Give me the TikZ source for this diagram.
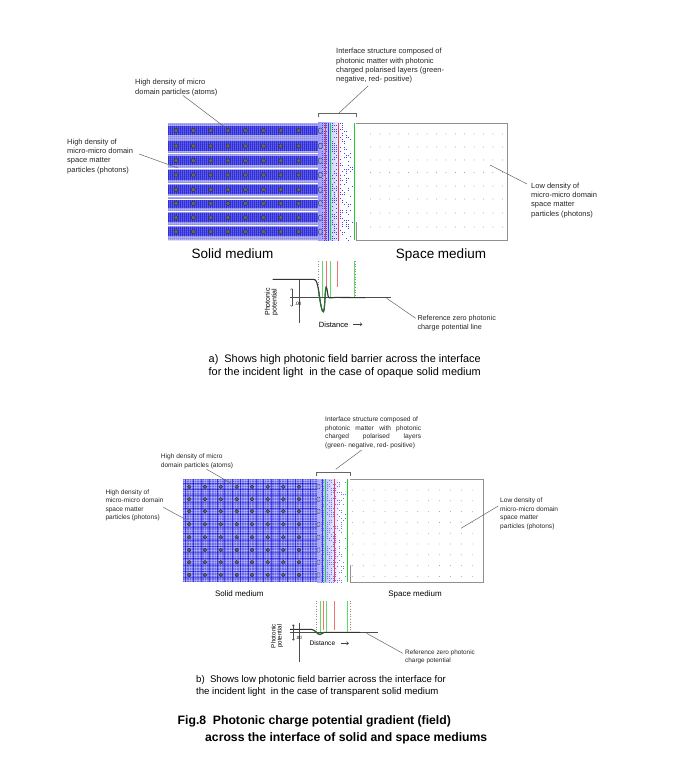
\documentclass[tikz,border=0pt]{standalone}
\usepackage{fontspec}
\setmainfont{Liberation Sans}
\usetikzlibrary{arrows.meta}
\definecolor{solidblue}{RGB}{50,50,225}
\definecolor{solidlight}{RGB}{160,160,240}
\definecolor{solidmid}{RGB}{105,105,232}
\definecolor{ifgreen}{RGB}{30,205,50}
\definecolor{ifred}{RGB}{235,60,85}
\definecolor{lgreen}{RGB}{100,220,100}
\definecolor{lred}{RGB}{240,115,115}
\definecolor{boxgray}{RGB}{145,145,145}
\definecolor{dotgray}{RGB}{150,150,150}
\definecolor{curvecol}{RGB}{45,55,45}
\definecolor{dipgreen}{RGB}{40,110,50}
\tikzset{
  lbl/.style={font=\fontsize{7.5}{9.3}\selectfont, inner sep=0pt, align=left, anchor=north west, text=black!85},
  lblsm/.style={font=\fontsize{6.6}{8.5}\selectfont, inner sep=0pt, align=left, anchor=north west, text=black!85},
  leader/.style={draw=black!60, line width=0.5pt},
  boxline/.style={draw=boxgray, line width=0.8pt},
  axisline/.style={draw=black!70, line width=0.6pt},
  dotline/.style={draw=black!45, dotted, line width=0.6pt},
  gline/.style={draw=lgreen, line width=0.8pt},
  rline/.style={draw=lred, line width=0.8pt},
  atomdot/.style={fill=black!60, draw=black!85, line width=0.3pt},
  dbl/.style={{Straight Barb[length=1.4pt,width=2.4pt]}-{Straight Barb[length=1.4pt,width=2.4pt]}, line width=0.4pt, black!70},
  distarrow/.style={-{Straight Barb[length=2pt,width=3.5pt]}, line width=0.5pt, black!75},
}
\begin{document}
\begin{tikzpicture}[x=1pt,y=-1pt]
\useasboundingbox[fill=white] (0,0) rectangle (689,762);

%================ TOP DIAGRAM =================
% solid medium block
\fill[solidlight] (168,123) rectangle (318,240);
\foreach \r in {130.7,146,160.7,175,189.7,203.3,217.7,231.7}
  \fill[solidblue] (168,\r-4.6) rectangle (318,\r+4.6);
\foreach \x in {169.5,171.5,...,317.5}
  \draw[white, opacity=0.22, line width=0.5pt] (\x,123) -- (\x,240);
\foreach \y in {124,126,...,240}
  \draw[blue!60!black, opacity=0.12, line width=0.4pt] (168,\y) -- (318,\y);
\foreach \y in {153.5,168,183,196.5,199.5,211,225.5}
  \draw[white, line width=0.6pt] (168,\y) -- (318,\y);
\foreach \r in {130.7,146,160.7,175,189.7,203.3,217.7,231.7}
  \foreach \c in {176,193.3,210.7,228,245.3,263.3,280.7,298.7}
    \filldraw[atomdot] (\c,\r) circle (2.1);

% interface region
\fill[left color=blue!40, right color=white] (318,123) rectangle (342,240);
\pgfmathsetseed{11}
\foreach \yy in {123.5,125.5,...,239.5}{
  \foreach \xx in {322,324,...,352}{
    \pgfmathtruncatemacro\keep{rnd>(\xx-318)/40}
    \ifnum\keep=1 \fill[blue!75] (\xx,\yy) rectangle ++(1.1,0.8);\fi
  }
}
\foreach \r in {130.7,146,160.7,175,189.7,203.3,217.7,231.7}
  \draw[black!75, line width=0.45pt, rounded corners=1pt] (318.6,\r-2.6) rectangle (322.2,\r+2.6);
\draw[ifred, line width=0.7pt] (325,123) -- (325,240);
\draw[blue!80, line width=0.5pt] (328,123) -- (328,240);
\draw[ifgreen, line width=0.7pt] (330.5,123) -- (330.5,240);
\draw[ifred, line width=0.7pt] (338,123) -- (338,240);
\draw[ifgreen, line width=0.7pt] (354,123) -- (354,240);

% space medium box
\draw[boxline] (356,123) -- (507,123) -- (507,240) -- (356,240) -- (356,222);
\foreach \y in {134,147,160,172.5,186,199,213,227}
  \foreach \x in {370.7,380.1,...,503}
    \fill[dotgray] (\x,\y) circle (0.5);

% bracket over interface
\draw[draw=black!60, line width=0.7pt] (318,117.5) -- (318,113) -- (356,113) -- (356,117.5);
\coordinate (brA) at (339,113);
\coordinate (ifA) at (368,86);

% labels
\node[lbl] (lblIfA) at (336,48.3) {Interface structure composed of\\photonic matter with photonic\\charged polarised layers (green-\\negative, red- positive)};
\node[lbl] (lblAtA) at (135,79.3) {High density of micro\\domain particles (atoms)};
\node[lbl] (lblPhA) at (67,138.6) {High density of\\micro-micro domain\\space matter\\particles (photons)};
\node[lbl] (lblLoA) at (531,182.6) {Low density of\\micro-micro domain\\space matter\\particles (photons)};
\coordinate (atA1) at (183,95.5);
\coordinate (atA2) at (226,128);
\coordinate (phA1) at (139,154);
\coordinate (phA2) at (178,168);
\coordinate (loA1) at (490,165);
\coordinate (loA2) at (527,184);
\draw[leader] (brA) -- (ifA);
\draw[leader] (atA1) -- (atA2);
\draw[leader] (phA1) -- (phA2);
\draw[leader] (loA1) -- (loA2);

\node[font=\fontsize{13.5}{16}\selectfont, inner sep=0pt, anchor=base] (solA) at (232.5,258) {Solid medium};
\node[font=\fontsize{13.5}{16}\selectfont, inner sep=0pt, anchor=base] (spaA) at (441,258) {Space medium};

% top graph
\draw[dotline] (318.7,261) -- (318.7,299);
\draw[gline] (322.7,261) -- (322.7,297.7);
\draw[rline] (326,261) -- (326,289);
\draw[gline] (330.7,261) -- (330.7,297.7);
\draw[rline] (337.7,261) -- (337.7,287);
\draw[gline] (354,261) -- (354,297.7);
\draw[dotline] (355.7,261) -- (355.7,299);
\draw[axisline] (299.3,280) -- (299.3,323.3);
\draw[axisline] (290,297.7) -- (390.7,297.7);
\draw[curvecol, line width=1.1pt] (272.7,279.3) -- (313,279.3)
  .. controls (316.5,279.3) and (317,282) .. (318.5,290)
  .. controls (320,300) and (321.5,311.7) .. (323.3,311.7)
  .. controls (325,311.7) and (325,287) .. (326.2,287)
  .. controls (327.3,287) and (327.5,297.7) .. (329,297.7)
  .. controls (331,298.6) and (333,297) .. (336,297.4)
  -- (365,297.7);
\draw[dipgreen, line width=1.1pt] (318.5,290)
  .. controls (320,300) and (321.5,311.7) .. (323.3,311.7)
  .. controls (325,311.7) and (325,287) .. (326.2,287);
\coordinate (dA1) at (291.7,288.3);
\coordinate (dA2) at (291.7,306.7);
\draw[dbl] (dA1) -- (dA2);
\node[font=\fontsize{4.8}{5}\selectfont, inner sep=0pt, anchor=west] (zA) at (294.5,304) {.00};
\node[font=\fontsize{7}{6.8}\selectfont, inner sep=0pt, rotate=90, align=center] (potA) at (271.5,302) {Photonic\\potential};
\node[font=\fontsize{7.6}{9}\selectfont, inner sep=0pt, anchor=west] (distA) at (318.7,324.3) {Distance};
\draw[distarrow] ([xshift=4.7pt]distA.east) -- ++(9,0);
\coordinate (refA1) at (386.7,298.3);
\coordinate (refA2) at (415.7,318.3);
\draw[leader] (refA1) -- (refA2);
\node[font=\fontsize{7.2}{9}\selectfont, inner sep=0pt, align=left, anchor=north west, text=black!85] (refA) at (417.3,315) {Reference zero photonic\\charge potential line};

\node[font=\fontsize{10.9}{12.4}\selectfont, inner sep=0pt, align=left, anchor=base west] (capA) at (208.5,375.2) {a)\ \ Shows high photonic field barrier across the interface\\for the incident light\ \ in the case of opaque solid medium};

%================ BOTTOM DIAGRAM =================
\fill[solidmid] (183,479) rectangle (317,582);
\foreach \x in {184,186.5,...,316}
  \draw[white, opacity=0.3, line width=0.5pt] (\x,479) -- (\x,582);
\foreach \y in {480,482.5,...,581}
  \draw[white, opacity=0.3, line width=0.5pt] (183,\y) -- (317,\y);
\foreach \x in {185.5,193.3,...,316}
  \draw[blue!85!black, opacity=0.55, line width=0.4pt] (\x,479) -- (\x,582);
\foreach \y in {483,489.3,...,581}
  \draw[blue!85!black, opacity=0.45, line width=0.4pt] (183,\y) -- (317,\y);
\foreach \r in {486.7,499.3,511.3,524.3,537.3,550,562.3,575}
  \foreach \c in {189.3,205,220.7,236.7,252,267.7,283.3,299}
    \filldraw[atomdot] (\c,\r) circle (1.9);

\fill[left color=blue!35, right color=white] (317,479) rectangle (340,582);
\pgfmathsetseed{5}
\foreach \yy in {479.5,481.5,...,581.5}{
  \foreach \xx in {321,323,...,346}{
    \pgfmathtruncatemacro\keep{rnd>(\xx-316)/34}
    \ifnum\keep=1 \fill[blue!55] (\xx,\yy) rectangle ++(1,0.7);\fi
  }
}
\foreach \r in {486.7,499.3,511.3,524.3,537.3,550,562.3,575}
  \draw[black!70, line width=0.4pt, rounded corners=1pt] (316.9,\r-2.3) rectangle (320,\r+2.3);
\draw[blue!80, line width=0.5pt] (322,479) -- (322,582);
\draw[ifgreen, line width=0.7pt] (325,479) -- (325,582);
\draw[ifred, line width=0.7pt] (334.3,479) -- (334.3,582);
\draw[ifgreen, line width=0.7pt] (347.7,479) -- (347.7,582);

\draw[boxline] (350,479) -- (483,479) -- (483,582) -- (350,582) -- (350,565);
\foreach \y in {490,500.8,511.6,522.4,533.2,544,554.8,565.6,576.4}
  \foreach \x in {352.3,363.2,...,480}
    \fill[dotgray] (\x,\y) circle (0.45);

\draw[draw=black!60, line width=0.7pt] (316.7,476) -- (316.7,472) -- (350,472) -- (350,476);
\coordinate (brB) at (335.7,469.3);
\coordinate (ifB) at (361.7,450);

\node[lblsm] (lblIfB) at (325,417) {Interface structure composed of\\\makebox[96pt][s]{photonic matter with photonic}\\\makebox[96pt][s]{charged polarised layers}\\(green- negative, red- positive)};
\node[lblsm] (lblAtB) at (160.7,453.7) {High density of micro\\domain particles (atoms)};
\node[lblsm] (lblPhB) at (105.3,489.3) {High density of\\micro-micro domain\\space matter\\particles (photons)};
\node[lblsm] (lblLoB) at (500,497.7) {Low density of\\micro-micro domain\\space matter\\particles (photons)};
\coordinate (atB1) at (206.7,469.3);
\coordinate (atB2) at (234,485);
\coordinate (phB1) at (163.3,507.3);
\coordinate (phB2) at (186.7,520);
\coordinate (loB1) at (461,528.3);
\coordinate (loB2) at (498.3,506);
\draw[leader] (brB) -- (ifB);
\draw[leader] (atB1) -- (atB2);
\draw[leader] (phB1) -- (phB2);
\draw[leader] (loB1) -- (loB2);

\node[font=\fontsize{8}{10}\selectfont, inner sep=0pt, anchor=base] (solB) at (239.3,596.5) {Solid medium};
\node[font=\fontsize{8}{10}\selectfont, inner sep=0pt, anchor=base] (spaB) at (415,596.5) {Space medium};

% bottom graph
\draw[dotline] (316,600.7) -- (316,633);
\draw[gline] (320.7,600.7) -- (320.7,632.3);
\draw[rline] (323.3,600.7) -- (323.3,630);
\draw[gline] (326.7,600.7) -- (326.7,632.3);
\draw[rline] (334,600.7) -- (334,630);
\draw[gline] (347.3,600.7) -- (347.3,632.3);
\draw[dotline] (350.7,600.7) -- (350.7,633);
\draw[axisline] (299.3,623.3) -- (299.3,661.7);
\draw[axisline] (290,632.3) -- (378.3,632.3);
\draw[curvecol, line width=1.1pt] (290,629.3) -- (311,629.3)
  .. controls (315,629.3) and (317,634.5) .. (320,634.5)
  .. controls (322,634.5) and (322.5,632.3) .. (324,632.3)
  -- (360,632.3);
\draw[dipgreen, line width=1.1pt] (315.5,631)
  .. controls (317,633.5) and (318.5,634.5) .. (320,634.5)
  .. controls (322,634.5) and (322.5,632.3) .. (324,632.3);
\coordinate (dB1) at (293.3,624.3);
\coordinate (dB2) at (293.3,640.7);
\draw[dbl] (dB1) -- (dB2);
\node[font=\fontsize{4.5}{5}\selectfont, inner sep=0pt, anchor=west] (zB) at (295.5,638.3) {.00};
\node[font=\fontsize{6.2}{6.2}\selectfont, inner sep=0pt, rotate=90, align=center] (potB) at (277,636) {Photonic\\potential};
\node[font=\fontsize{6.6}{8}\selectfont, inner sep=0pt, anchor=west] (distB) at (309.3,643.3) {Distance};
\draw[distarrow] ([xshift=5.5pt]distB.east) -- ++(8,0);
\coordinate (refB1) at (366.7,633.3);
\coordinate (refB2) at (402.7,653.3);
\draw[leader] (refB1) -- (refB2);
\node[font=\fontsize{6.4}{8}\selectfont, inner sep=0pt, align=left, anchor=north west, text=black!85] (refB) at (405,649.6) {Reference zero photonic\\charge potential};

\node[font=\fontsize{9.6}{11.5}\selectfont, inner sep=0pt, align=left, anchor=base west] (capB) at (196,694) {b)\ \ Shows low photonic field barrier across the interface for\\the incident light\ \ in the case of transparent solid medium};

\node[font=\fontsize{12.2}{16.5}\selectfont\bfseries, inner sep=0pt, align=left, anchor=base west] (title) at (177.5,741) {Fig.8\ \ Photonic charge potential gradient (field)\\\hspace*{27.5pt}across the interface of solid and space mediums};
\end{tikzpicture}
\end{document}
